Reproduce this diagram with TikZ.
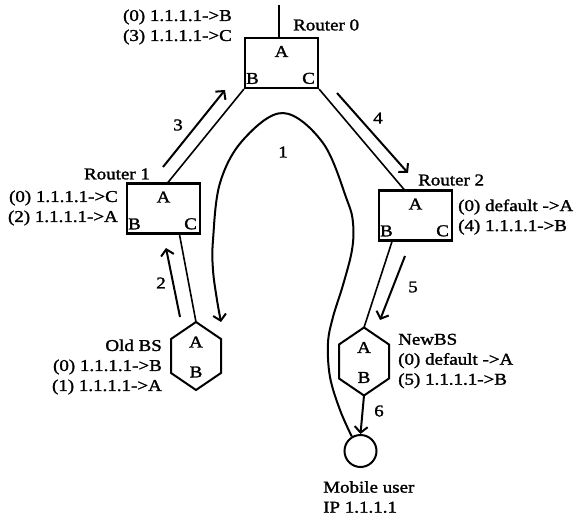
\documentclass[tikz,border=0pt]{standalone}
\usepackage{fontspec}
\setmainfont[FakeStretch=1.15,FakeBold=1.6]{Liberation Serif}
\usetikzlibrary{calc,arrows.meta,positioning}

\begin{document}
\begin{tikzpicture}[
    x={(1pt,0pt)}, y={(0pt,-1pt)},
    every node/.style={font=\fontsize{16.5}{20}\selectfont, inner sep=0pt},
    router/.style={draw, line width=2.2pt, minimum width=73pt, minimum height=50pt},
    link/.style={line width=1.6pt},
    hop/.style={line width=2pt, -{Straight Barb[length=6pt, width=13pt, line width=2pt]}},
  ]
    \useasboundingbox (0,0) rectangle (576,518);

    \newcommand{\ports}[1]{%
      \node[anchor=north] (#1-a) at ([yshift=-9pt]#1.north) {A};
      \node[anchor=south west] (#1-b) at ([shift={(2pt,5pt)}]#1.south west) {B};
      \node[anchor=south east] (#1-c) at ([shift={(-4pt,5pt)}]#1.south east) {C};
    }
    \newcommand{\bshex}[3]{%
      \draw[line width=2pt] (#2,#3-34) coordinate (#1-top) -- (#2+25,#3-17)
        -- (#2+25,#3+17) -- (#2,#3+34) coordinate (#1-bot) -- (#2-25,#3+17)
        -- (#2-25,#3-17) -- cycle;
      \node (#1-a) at (#2,#3-14) {A};
      \node (#1-b) at (#2,#3+16) {B};
    }

    % ---- routers ----
    \node[router] (r0) at (281.5,63) {};
    \node[router] (r1) at (163.5,208.5) {};
    \node[router] (r2) at (415.5,215.5) {};
    \ports{r0}
    \ports{r1}
    \ports{r2}

    \node[anchor=west] (r0name) at (293,25) {Router 0};
    \node[anchor=east, align=right] (r0tab) at (232,27) {(0) 1.1.1.1->B\\(3) 1.1.1.1->C};
    \node (r1name) at (117,174) {Router 1};
    \node[anchor=east, align=right] (r1tab) at (118,208) {(0) 1.1.1.1->C\\(2) 1.1.1.1->A};
    \node[anchor=west] (r2name) at (418,180) {Router 2};
    \node[anchor=west, align=left] (r2tab) at (458,217) {(0) default ->A\\(4) 1.1.1.1->B};

    % ---- base stations and user ----
    \bshex{oldbs}{196}{356}
    \bshex{newbs}{364}{361.5}
    \node[anchor=east, align=right] (oldname) at (162,367) {Old BS\\(0) 1.1.1.1->B\\(1) 1.1.1.1->A};
    \node[anchor=west, align=left] (newname) at (398,361) {NewBS\\(0) default ->A\\(5) 1.1.1.1->B};
    \node[circle, draw, line width=2pt, minimum size=32pt] (mu) at (360.5,451) {};
    \node[anchor=west, align=left] (muname) at (323,497) {Mobile user\\IP 1.1.1.1};

    % ---- links ----
    \coordinate (uplink) at (279,5);
    \draw[link] (uplink) -- (uplink |- r0.north);
    \draw[link] (r0.south west) -- ([xshift=4.5pt]r1.north);
    \draw[link] (r0.south east) -- ([xshift=-11.5pt]r2.north);
    \draw[link] ([xshift=16pt]r1.south) -- (oldbs-top);
    \draw[link] ([xshift=-23.5pt]r2.south) -- (newbs-top);

    % ---- message steps ----
    \coordinate (s1end) at (221,322);
    \coordinate (s2a) at (180,317); \coordinate (s2b) at (166,248);
    \coordinate (s3a) at (163,167); \coordinate (s3b) at (225,90);
    \coordinate (s4a) at (337,93);  \coordinate (s4b) at (408,173);
    \coordinate (s5a) at (405,256); \coordinate (s5b) at (380,320);
    \draw[hop] plot[smooth, tension=0.6] coordinates {(mu.121) (340,410) (330,377)
      (328,343) (333,317) (343,285) (352,250) (353,223) (347,200) (323,143)
      (283,113) (243,140) (220,183) (213,240) (213,270) (217,300) (s1end)};
    \draw[hop] (s2a) -- (s2b);
    \draw[hop] (s3a) -- (s3b);
    \draw[hop] (s4a) -- (s4b);
    \draw[hop] (s5a) -- (s5b);
    \draw[hop] (newbs-bot) -- (mu.north);

    \node (n1) at (283,152) {1};
    \node (n2) at (161,283) {2};
    \node (n3) at (178,125) {3};
    \node (n4) at (378,118) {4};
    \node (n5) at (413,287) {5};
    \node (n6) at (379,411) {6};
  \end{tikzpicture}
\end{document}
